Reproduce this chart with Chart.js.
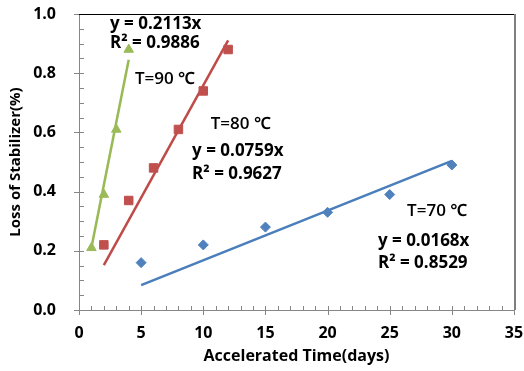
<!DOCTYPE html>
<html>
<head>
<meta charset="utf-8">
<script src="https://cdn.jsdelivr.net/npm/chart.js@4/dist/chart.umd.min.js"></script>
<style>
  html, body { margin: 0; padding: 0; background: #fff; }
  #wrap { width: 524px; height: 371px; }
</style>
</head>
<body>
<div id="wrap"><canvas id="chart" width="524" height="371"></canvas></div>
<script>
// --- datos ---
const days70 = [5, 10, 15, 20, 25, 30];
const loss70 = [0.16, 0.22, 0.28, 0.33, 0.39, 0.49];
const days80 = [2, 4, 6, 8, 10, 12];
const loss80 = [0.22, 0.37, 0.48, 0.61, 0.74, 0.88];
const days90 = [1, 2, 3, 4];
const loss90 = [0.21, 0.39, 0.61, 0.88];

// pendientes de las rectas de tendencia (y = kx)
const slope70 = 0.0168;
const slope80 = 0.0759;
const slope90 = 0.2113;

const xTicks = [0, 5, 10, 15, 20, 25, 30, 35];
const yTicks = [0.0, 0.2, 0.4, 0.6, 0.8, 1.0];

// textos de las anotaciones y su ancla en unidades de datos
const noteTexts = ['y = 0.2113x', 'R² = 0.9886', 'T=90 ℃',
                   'T=80 ℃', 'y = 0.0759x', 'R² = 0.9627',
                   'T=70 ℃', 'y = 0.0168x', 'R² = 0.8529'];
const noteX = [2.49, 2.49, 4.5, 10.6, 9.1, 9.1, 26.4, 24.05, 24.05];
const noteY = [0.966, 0.902, 0.78, 0.628, 0.536, 0.458, 0.333, 0.232, 0.158];
const noteBold = [true, true, false, false, true, true, false, true, true];

const FONT = '"Open Sans", "Noto Sans", sans-serif';

function pts(xs, ys) {
    return xs.map((x, i) => ({ x: x, y: ys[i] }));
}
function trend(xs, k) {
    const a = xs[0], b = xs[xs.length - 1];
    return [{ x: a, y: k * a }, { x: b, y: k * b }];
}
function noPad(s) {
    s.paddingTop = 0; s.paddingBottom = 0; s.paddingLeft = 0; s.paddingRight = 0;
}

// marcas menores/mayores y borde superior/derecho como en Excel
const frameTicks = {
    id: 'frameTicks',
    afterDraw(chart) {
        const { ctx, chartArea: ca, scales } = chart;
        ctx.save();
        ctx.strokeStyle = '#868686';
        ctx.lineWidth = 1;
        ctx.beginPath();
        for (let v = 0; v <= 35.001; v += 1) {
            const px = Math.round(scales.x.getPixelForValue(v)) + 0.5;
            const major = Math.abs(v % 5) < 0.001;
            ctx.moveTo(px, ca.bottom - 4);
            ctx.lineTo(px, ca.bottom + (major ? 5 : 0));
        }
        for (let i = 0; i <= 20; i++) {
            const v = i * 0.05;
            const py = Math.round(scales.y.getPixelForValue(v)) + 0.5;
            const major = i % 4 === 0;
            ctx.moveTo(ca.left + 5, py);
            ctx.lineTo(ca.left - (major ? 5 : 0), py);
        }
        ctx.stroke();
        ctx.strokeStyle = '#000';
        ctx.beginPath();
        ctx.moveTo(ca.left, Math.round(ca.top) + 0.5);
        ctx.lineTo(ca.right, Math.round(ca.top) + 0.5);
        ctx.stroke();
        ctx.strokeStyle = '#7f7f7f';
        ctx.lineWidth = 2;
        ctx.beginPath();
        ctx.moveTo(Math.round(ca.right) + 1, ca.top);
        ctx.lineTo(Math.round(ca.right) + 1, ca.bottom);
        ctx.stroke();
        ctx.restore();
    }
};

const notes = {
    id: 'notes',
    afterDatasetsDraw(chart) {
        const { ctx, scales } = chart;
        ctx.save();
        ctx.fillStyle = '#000';
        ctx.textAlign = 'left';
        ctx.textBaseline = 'middle';
        noteTexts.forEach((t, i) => {
            ctx.font = (noteBold[i] ? 'bold ' : '600 ') + '17px ' + FONT;
            ctx.fillText(t, scales.x.getPixelForValue(noteX[i]), scales.y.getPixelForValue(noteY[i]));
        });
        ctx.restore();
    }
};

new Chart(document.getElementById('chart'), {
    type: 'scatter',
    data: {
        datasets: [
            { data: pts(days70, loss70), pointStyle: 'rectRot', pointRadius: 5,
              backgroundColor: '#4F81BD', borderColor: '#4F81BD', borderWidth: 1 },
            { data: pts(days80, loss80), pointStyle: 'rect', pointRadius: 6,
              backgroundColor: '#C0504D', borderColor: '#C0504D', borderWidth: 1 },
            { data: pts(days90, loss90), pointStyle: 'triangle', pointRadius: 5.5,
              backgroundColor: '#9BBB59', borderColor: '#9BBB59', borderWidth: 1 },
            { data: trend(days70, slope70), showLine: true, pointRadius: 0,
              borderColor: '#4A7EBB', borderWidth: 2.5 },
            { data: trend(days80, slope80), showLine: true, pointRadius: 0,
              borderColor: '#BE4B48', borderWidth: 2.5 },
            { data: trend(days90, slope90), showLine: true, pointRadius: 0,
              borderColor: '#98B954', borderWidth: 2.5 }
        ]
    },
    options: {
        responsive: false,
        animation: false,
        events: [],
        layout: { padding: { top: 14, right: 10, left: 0, bottom: 0 } },
        plugins: { legend: { display: false }, tooltip: { enabled: false } },
        scales: {
            x: {
                type: 'linear', min: 0, max: 35,
                afterBuildTicks: s => { s.ticks = xTicks.map(v => ({ value: v })); },
                afterFit: s => { s.height = 61; noPad(s); },
                grid: { display: false, drawTicks: false },
                border: { color: '#868686', width: 1 },
                ticks: { padding: 14, color: '#000', font: { family: FONT, size: 16, weight: 'bold' } },
                title: { display: true, text: 'Accelerated Time(days)', color: '#000',
                         padding: { top: 0, bottom: 5 }, font: { family: FONT, size: 16, weight: 'bold' } }
            },
            y: {
                type: 'linear', min: 0, max: 1,
                afterBuildTicks: s => { s.ticks = yTicks.map(v => ({ value: v })); },
                afterFit: s => { s.width = 79; noPad(s); },
                grid: { display: false, drawTicks: false },
                border: { color: '#868686', width: 1 },
                ticks: { padding: 23, color: '#000', callback: v => v.toFixed(1),
                         font: { family: FONT, size: 16, weight: 'bold' } },
                title: { display: true, text: 'Loss of Stabilizer(%)', color: '#000',
                         padding: { top: 7, bottom: 0 }, font: { family: FONT, size: 15, weight: 'bold' } }
            }
        }
    },
    plugins: [frameTicks, notes]
});
</script>
</body>
</html>
